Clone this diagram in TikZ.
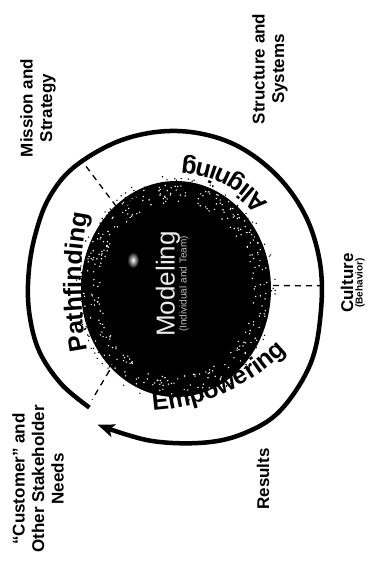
\documentclass[tikz,border=0pt]{standalone}
\usepackage{fontspec}
\setmainfont{Liberation Sans}
\usetikzlibrary{arrows.meta,decorations.text}

% merkez diskin bulanik kenari
\pgfdeclareradialshading{hale}{\pgfpointorigin}{color(0bp)=(black); color(39bp)=(black); color(45bp)=(black!70); color(50bp)=(white)}
\newcommand{\halkayazi}{\fontsize{25}{28}\selectfont\bfseries}

\begin{document}
\begin{tikzpicture}[x=1pt, y=1pt,
    dis/.style={font=\fontsize{17}{19.5}\selectfont\bfseries, rotate=90, align=center, inner sep=0pt},
    halka/.style={line width=4.5pt, -{Stealth[length=17pt,width=13pt,inset=4pt]}},
    ayrac/.style={dash pattern=on 6pt off 5pt, line width=1.3pt},
    yay/.style={decorate, decoration={text along path, text align=center, text={|\halkayazi|#1}}}]
  \useasboundingbox (0,0) rectangle (376,561);
  \coordinate (m) at (177,274);
  \coordinate (core) at (176,272);

  % orta: koyu disk ve kenar tanecikleri
  \shade[shading=hale] (core) ellipse (95 and 108);
  \pgfmathsetseed{7}
  \foreach \k in {1,...,300}{
    \pgfmathsetmacro\aci{360*rnd}
    \pgfmathsetmacro\yar{0.8+0.18*rnd}
    \fill[white] (core) ++({95*\yar*cos(\aci)},{108*\yar*sin(\aci)}) circle (0.8);
  }
  \foreach \k in {1,...,250}{
    \pgfmathsetmacro\aci{360*rnd}
    \pgfmathsetmacro\yar{0.9+0.15*rnd}
    \fill[black] (core) ++({95*\yar*cos(\aci)},{108*\yar*sin(\aci)}) circle (0.8);
  }
  \shade[inner color=white, outer color=black] (133,301) ellipse (6 and 8);
  \node[rotate=90, text=gray!15, font=\fontsize{26}{26}\selectfont] (modeling) at (168,277) {Modeling};
  \node[rotate=90, text=gray!50, font=\fontsize{10}{10}\selectfont] (modelalt) at (184,277) {(Individual and Team)};

  \begin{scope}[shift={(m)}]
    % ayraclar
    \coordinate (mis-ic) at (127:101);
    \coordinate (mis-dis) at (127:153);
    \coordinate (kul-ic) at (1:85);
    \coordinate (kul-dis) at (0.5:143);
    \coordinate (mus-ic) at (229:86);
    \coordinate (mus-dis) at (233:141);
    \draw[ayrac] (mis-ic) -- (mis-dis);
    \draw[ayrac] (kul-ic) -- (kul-dis);
    \draw[ayrac] (mus-ic) -- (mus-dis);

    % dis halka (ok ile)
    \draw[halka] plot[smooth, tension=0.6] coordinates {(234:149) (220:151) (205:152) (190:150)
      (175:149) (160:151) (145:156) (130:158) (110:157) (90:156) (70:154) (50:150) (30:147)
      (10:145) (-10:146) (-30:154) (-50:161) (-65:161) (-80:158) (-100:156) (-120:159)};

    % halka yazilari
    \path[yay=Pathfinding] (-87.0,-73.7) arc[start angle=193, end angle=167, radius=350];
    \path[yay=Aligning] (101.3,68.5) arc[start angle=30, end angle=96, radius=117];
    \path[yay=Empowering] (-37,-124) arc[start angle=-90, end angle=-42, radius=210];
  \end{scope}

  % dis etiketler
  \node[dis] (misyon) at (38,453) {Mission and\\Strategy};
  \node[dis] (yapi) at (270,492) {Structure and\\Systems};
  \node[dis] (kultur) at (347,278) {Culture};
  \node[rotate=90, font=\fontsize{10}{10}\selectfont\bfseries, inner sep=0pt] (kulturalt) at (360,278) {(Behavior)};
  \node[dis] (sonuc) at (263,82) {Results};
  \node[dis] (musteri) at (38,82) {“Customer” and\\Other Stakeholder\\Needs};
\end{tikzpicture}
\end{document}
